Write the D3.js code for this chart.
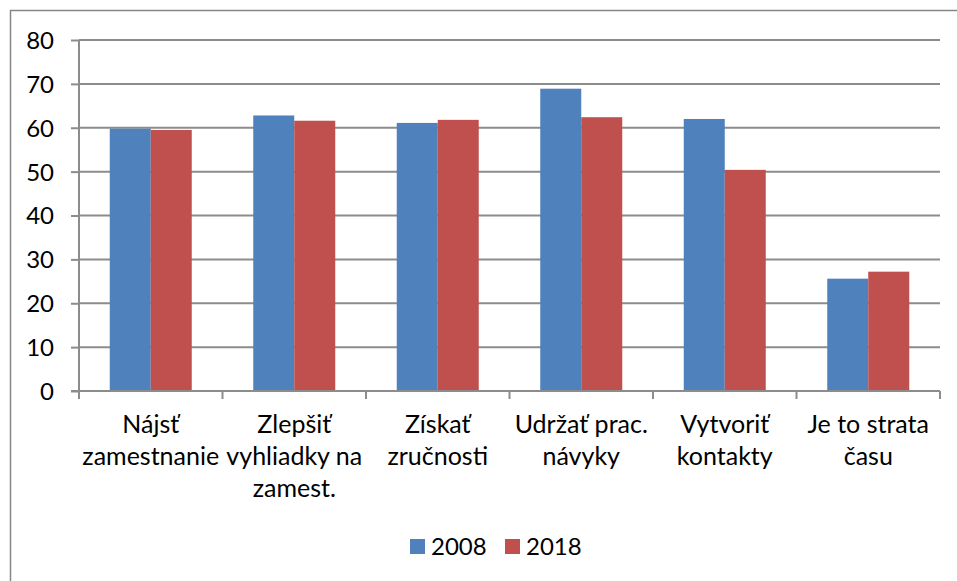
<!DOCTYPE html>
<html>
<head>
<meta charset="utf-8">
<script src="https://cdn.jsdelivr.net/npm/d3@7"></script>
<style>
  body { margin: 0; background: #fff; }
  svg text { font-family: Lato, "Open Sans", sans-serif; fill: #000; }
</style>
</head>
<body>
<div id="chart"></div>
<script>
var categories = ["Nájsť zamestnanie", "Zlepšiť vyhliadky na zamest.", "Získať zručnosti", "Udržať prac. návyky", "Vytvoriť kontakty", "Je to strata času"];
var categoryLines = [["Nájsť", "zamestnanie"], ["Zlepšiť", "vyhliadky na", "zamest."], ["Získať", "zručnosti"], ["Udržať prac.", "návyky"], ["Vytvoriť", "kontakty"], ["Je to strata", "času"]];
var series = ["2008", "2018"];
var values2008 = [59.8, 62.8, 61.1, 68.9, 62.0, 25.6];
var values2018 = [59.5, 61.6, 61.8, 62.4, 50.4, 27.2];
var yTicks = [0, 10, 20, 30, 40, 50, 60, 70, 80];
var colors = ["#4F81BD", "#C0504D"];

var width = 957, height = 581;
var plot = { left: 79, right: 940, top: 40, bottom: 391 };

var svg = d3.select("#chart").append("svg")
	.attr("width", width)
	.attr("height", height);

// outer chart border (cropped on right and bottom)
svg.append("rect")
	.attr("x", 10.5).attr("y", 10.5)
	.attr("width", 980).attr("height", 600)
	.attr("fill", "none")
	.attr("stroke", "#868686")
	.attr("stroke-width", 1.5);

var x0 = d3.scaleBand().domain(categories).range([plot.left, plot.right]);
var x1 = d3.scaleBand().domain(series).range([0, x0.bandwidth()]).paddingOuter(0.75);
var y = d3.scaleLinear().domain([0, 80]).range([plot.bottom, plot.top]);

// gridlines
svg.append("g")
	.selectAll("line")
	.data(yTicks.filter(d => d > 0))
	.join("line")
	.attr("x1", plot.left).attr("x2", plot.right)
	.attr("y1", d => y(d)).attr("y2", d => y(d))
	.attr("stroke", "#8c8c8c")
	.attr("stroke-width", 2);

// bars
var rows = categories.map((c, i) => ({ cat: c, vals: [values2008[i], values2018[i]] }));
svg.append("g")
	.selectAll("g")
	.data(rows)
	.join("g")
	.attr("transform", d => `translate(${x0(d.cat)},0)`)
	.selectAll("rect")
	.data(d => d.vals.map((v, j) => ({ s: series[j], v: v, j: j })))
	.join("rect")
	.attr("x", d => x1(d.s))
	.attr("width", x1.bandwidth())
	.attr("y", d => y(d.v))
	.attr("height", d => y(0) - y(d.v))
	.attr("fill", d => colors[d.j]);

// y axis
var yAxis = svg.append("g")
	.attr("transform", `translate(${plot.left},0)`)
	.call(d3.axisLeft(y).tickValues(yTicks).tickSize(8).tickPadding(17));
yAxis.selectAll("path, line").attr("stroke", "#8c8c8c").attr("stroke-width", 2);
yAxis.select(".domain").attr("d", `M0,${plot.top}V${plot.bottom}`);
yAxis.selectAll("text").style("font-size", "24px").attr("dy", "0.35em");

// x axis
var xAxis = svg.append("g");
xAxis.append("line")
	.attr("x1", plot.left - 8).attr("x2", plot.right)
	.attr("y1", plot.bottom).attr("y2", plot.bottom)
	.attr("stroke", "#8c8c8c").attr("stroke-width", 2);
var bounds = categories.map(c => x0(c)).concat([plot.right]);
xAxis.selectAll("line.tick")
	.data(bounds)
	.join("line")
	.attr("class", "tick")
	.attr("x1", d => d).attr("x2", d => d)
	.attr("y1", plot.bottom).attr("y2", plot.bottom + 8)
	.attr("stroke", "#8c8c8c").attr("stroke-width", 2);

xAxis.selectAll("text")
	.data(categories)
	.join("text")
	.attr("text-anchor", "middle")
	.style("font-size", "25px")
	.attr("transform", d => `translate(${x0(d) + x0.bandwidth() / 2},433)`)
	.selectAll("tspan")
	.data((d, i) => categoryLines[i])
	.join("tspan")
	.attr("x", 0)
	.attr("y", (d, i) => i * 32)
	.text(d => d);

// legend
var legend = svg.append("g").attr("transform", "translate(410,539)");
var items = legend.selectAll("g")
	.data(series)
	.join("g")
	.attr("transform", (d, i) => `translate(${i * 95},0)`);
items.append("rect")
	.attr("width", 15).attr("height", 15)
	.attr("fill", (d, i) => colors[i]);
items.append("text")
	.attr("x", 21).attr("y", 16)
	.style("font-size", "24px")
	.text(d => d);
</script>
</body>
</html>
